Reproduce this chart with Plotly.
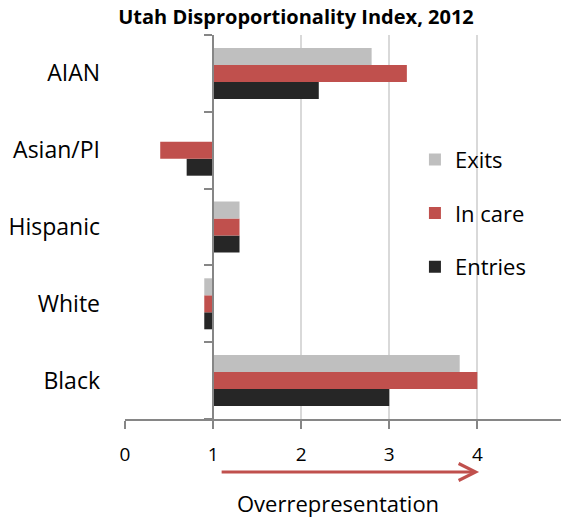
import plotly.graph_objects as go

# Disproportionality index by race/ethnicity (1.0 = parity)
categories = ["Black", "White", "Hispanic", "Asian/PI", "AIAN"]
exits = [3.8, 0.9, 1.3, None, 2.8]
in_care = [4.0, 0.9, 1.3, 0.4, 3.2]
entries = [3.0, 0.9, 1.3, 0.7, 2.2]
x_ticks = [0, 1, 2, 3, 4]
x_tick_labels = ["0", "1", "2", "3", "4"]
parity = 1.0
x_range = [0, 4.95]

FONT = "Open Sans"
AXIS_GRAY = "#868686"
GRID_GRAY = "#D9D9D9"
RED = "#C0504D"

# bottom-to-top within each group: Entries, In care, Exits
# (legend rank puts Exits first, Entries last)
series = [
    ("Entries", entries, "#262626", 3),
    ("In care", in_care, RED, 2),
    ("Exits", exits, "#BFBFBF", 1),
]

fig = go.Figure()
for name, vals, color, rank in series:
    fig.add_trace(go.Bar(
        y=categories,
        x=[None if v is None else v - parity for v in vals],
        base=parity,
        orientation="h",
        name=name,
        legendgroup=name,
        legendrank=rank,
        marker=dict(color=color, line=dict(width=0)),
    ))

# invisible trace that carries the categories onto the parity axis
fig.add_trace(go.Scatter(
    y=categories, x=[parity] * len(categories), yaxis="y2",
    mode="markers", marker=dict(opacity=0), showlegend=False, hoverinfo="skip",
))

parity_pos = (parity - x_range[0]) / (x_range[1] - x_range[0])

fig.update_layout(
    width=561, height=518,
    margin=dict(l=125, r=0, t=35, b=99),
    paper_bgcolor="white", plot_bgcolor="white",
    font=dict(family=FONT, color="black"),
    barmode="group", bargap=0.336, bargroupgap=0,
    title=dict(
        text="<b>Utah Disproportionality Index, 2012</b>",
        font=dict(size=20, family=FONT, color="black"),
        x=296 / 561, xref="container", xanchor="center",
        y=1 - 17 / 518, yref="container", yanchor="middle",
    ),
    xaxis=dict(
        range=x_range, tickvals=x_ticks, ticktext=x_tick_labels,
        showgrid=True, gridcolor=GRID_GRAY, gridwidth=1.5,
        zeroline=False, showline=True, linecolor=AXIS_GRAY, linewidth=1.5,
        ticks="outside", ticklen=8, tickcolor=AXIS_GRAY, tickwidth=1.5,
        tickfont=dict(size=19, color="black"), ticklabelstandoff=9,
    ),
    yaxis=dict(
        type="category", categoryarray=categories, categoryorder="array",
        range=[-0.5, len(categories) - 0.5],
        showgrid=False, showline=False, zeroline=False, ticks="",
        tickfont=dict(size=23, color="black"), ticklabelstandoff=24,
    ),
    yaxis2=dict(
        type="category", categoryarray=categories, categoryorder="array",
        range=[-0.5, len(categories) - 0.5],
        overlaying="y", anchor="free", position=parity_pos, side="left",
        showgrid=False, zeroline=False, showline=True,
        linecolor=AXIS_GRAY, linewidth=1.5,
        ticks="outside", tickson="boundaries", ticklen=8,
        tickcolor=AXIS_GRAY, tickwidth=1.5, showticklabels=False,
    ),
    legend=dict(
        x=0.665, y=0.73, xanchor="left", yanchor="top",
        traceorder="grouped", tracegroupgap=22,
        font=dict(size=22, color="black"), bgcolor="rgba(0,0,0,0)",
    ),
    showlegend=True,
    annotations=[
        dict(
            x=4.02, y=-0.138, xref="x", yref="paper",
            ax=1.08, ay=0, axref="x", ayref="pixel",
            showarrow=True, arrowhead=5, arrowsize=1.1, arrowwidth=3,
            arrowcolor=RED, text="",
        ),
        dict(
            x=2.42, y=-0.219, xref="x", yref="paper",
            text="Overrepresentation", showarrow=False,
            font=dict(size=22, color="black"),
            xanchor="center", yanchor="middle",
        ),
    ],
)

fig.write_html("out.html")
